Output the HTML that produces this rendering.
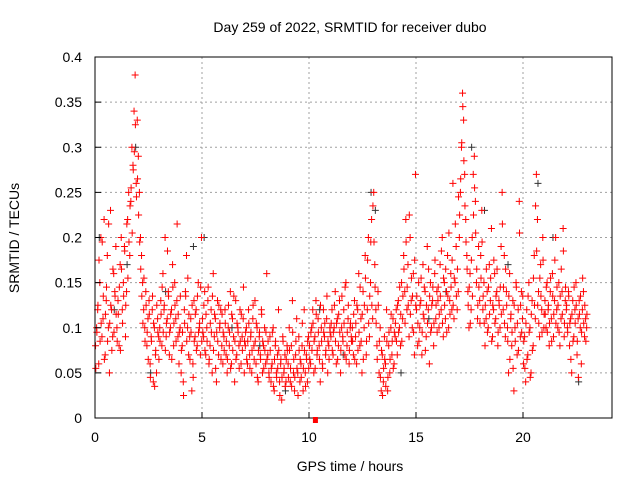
<!DOCTYPE html>
<html><head><meta charset="utf-8">
<style>
body{margin:0;background:#fff}
svg{display:block;font-family:"Liberation Sans",sans-serif}
</style></head>
<body>
<svg id="chart" width="640" height="480" viewBox="0 0 640 480">
<rect width="640" height="480" fill="#fff"/>
<text x="350" y="32" font-size="14" text-anchor="middle">Day 259 of 2022, SRMTID for receiver dubo</text>
<g id="grid"></g>
<g id="black-series"></g>
<g id="red-series"></g>
<g id="axes"></g>
<text x="350" y="471" font-size="14" text-anchor="middle">GPS time / hours</text>
<text transform="translate(19,238) rotate(-90)" font-size="14" text-anchor="middle">SRMTID / TECUs</text>
</svg>
<script>
const xTicks=[0,5,10,15,20];
const yTicks=[0,0.05,0.1,0.15,0.2,0.25,0.3,0.35,0.4];
const yTickLabels=["0","0.05","0.1","0.15","0.2","0.25","0.3","0.35","0.4"];
// red series: values per hour block (20 samples each)
const redHourly=[
[0.08,0.1,0.12,0.06,0.15,0.2,0.09,0.11,0.22,0.07,0.13,0.18,0.1,0.05,0.23,0.12,0.09,0.16,0.14,0.19],
[0.1,0.13,0.08,0.17,0.2,0.12,0.15,0.19,0.09,0.14,0.22,0.25,0.18,0.24,0.3,0.28,0.34,0.38,0.26,0.33],
[0.29,0.25,0.2,0.18,0.15,0.12,0.1,0.14,0.08,0.11,0.13,0.06,0.09,0.12,0.04,0.1,0.07,0.05,0.11,0.09],
[0.1,0.13,0.08,0.16,0.12,0.2,0.09,0.11,0.14,0.07,0.1,0.12,0.17,0.08,0.15,0.11,0.13,0.09,0.06,0.1],
[0.05,0.08,0.04,0.12,0.14,0.18,0.1,0.07,0.09,0.11,0.03,0.06,0.13,0.09,0.12,0.08,0.15,0.1,0.07,0.2],
[0.11,0.09,0.14,0.07,0.1,0.13,0.06,0.08,0.12,0.05,0.16,0.09,0.11,0.04,0.13,0.07,0.1,0.12,0.08,0.06],
[0.09,0.12,0.07,0.05,0.1,0.08,0.14,0.06,0.11,0.09,0.04,0.13,0.07,0.1,0.08,0.12,0.06,0.09,0.11,0.05],
[0.08,0.1,0.06,0.12,0.07,0.09,0.05,0.11,0.08,0.13,0.06,0.1,0.04,0.09,0.07,0.12,0.05,0.08,0.1,0.06],
[0.16,0.07,0.05,0.09,0.04,0.06,0.1,0.03,0.08,0.05,0.07,0.12,0.04,0.06,0.02,0.09,0.05,0.07,0.04,0.08],
[0.06,0.1,0.04,0.08,0.13,0.05,0.03,0.07,0.11,0.05,0.09,0.04,0.06,0.08,0.03,0.12,0.05,0.07,0.04,0.09],
[0.08,0.06,0.1,0.12,0.05,0.09,0.13,0.07,0.11,0.08,0.04,0.1,0.06,0.12,0.09,0.07,0.11,0.05,0.08,0.1],
[0.09,0.12,0.07,0.1,0.14,0.06,0.11,0.08,0.13,0.05,0.1,0.09,0.12,0.07,0.15,0.08,0.11,0.06,0.1,0.09],
[0.1,0.07,0.13,0.09,0.06,0.12,0.16,0.08,0.11,0.05,0.14,0.1,0.18,0.07,0.12,0.2,0.09,0.15,0.22,0.11],
[0.25,0.17,0.12,0.08,0.14,0.05,0.1,0.03,0.07,0.04,0.09,0.06,0.12,0.03,0.08,0.05,0.1,0.07,0.11,0.06],
[0.09,0.12,0.07,0.13,0.1,0.08,0.15,0.11,0.18,0.14,0.22,0.12,0.17,0.09,0.2,0.13,0.1,0.16,0.07,0.27],
[0.12,0.08,0.15,0.1,0.13,0.07,0.17,0.11,0.14,0.09,0.19,0.12,0.06,0.15,0.1,0.13,0.08,0.16,0.11,0.14],
[0.13,0.1,0.17,0.12,0.2,0.09,0.15,0.11,0.14,0.18,0.1,0.13,0.16,0.12,0.26,0.11,0.15,0.19,0.12,0.14],
[0.2,0.25,0.3,0.36,0.33,0.27,0.22,0.18,0.14,0.1,0.16,0.12,0.2,0.27,0.29,0.24,0.15,0.11,0.19,0.13],
[0.18,0.23,0.12,0.15,0.08,0.11,0.14,0.1,0.17,0.13,0.21,0.09,0.12,0.16,0.11,0.14,0.08,0.13,0.1,0.19],
[0.25,0.12,0.18,0.09,0.14,0.1,0.05,0.16,0.11,0.08,0.13,0.03,0.1,0.15,0.07,0.12,0.24,0.09,0.14,0.11],
[0.06,0.09,0.04,0.12,0.07,0.15,0.1,0.05,0.13,0.08,0.18,0.11,0.27,0.22,0.14,0.09,0.17,0.12,0.2,0.1],
[0.13,0.1,0.15,0.12,0.08,0.14,0.11,0.16,0.09,0.13,0.2,0.12,0.1,0.15,0.08,0.11,0.14,0.21,0.09,0.13],
[0.12,0.1,0.14,0.08,0.11,0.05,0.13,0.09,0.12,0.15,0.07,0.11,0.13,0.1,0.06,0.12,0.14,0.09,0.11,0.1]
];
// second red sweep (other satellites), offset in time
const redHourlyB=[
[0.055,0.095,0.125,0.175,0.085,0.105,0.195,0.135,0.065,0.115,0.145,0.085,0.215,0.105,0.125,0.075,0.165,0.095,0.135,0.115],
[0.085,0.115,0.145,0.075,0.165,0.105,0.135,0.185,0.125,0.215,0.155,0.195,0.235,0.255,0.205,0.275,0.295,0.325,0.245,0.265],
[0.225,0.195,0.165,0.135,0.105,0.155,0.085,0.125,0.095,0.065,0.115,0.045,0.085,0.135,0.105,0.035,0.075,0.125,0.095,0.065],
[0.085,0.115,0.145,0.095,0.125,0.075,0.105,0.185,0.135,0.095,0.115,0.065,0.145,0.105,0.125,0.085,0.215,0.115,0.095,0.135],
[0.075,0.095,0.025,0.105,0.135,0.085,0.155,0.115,0.065,0.095,0.125,0.045,0.085,0.115,0.075,0.135,0.095,0.105,0.145,0.085],
[0.095,0.125,0.075,0.115,0.085,0.145,0.065,0.105,0.095,0.135,0.075,0.115,0.055,0.095,0.085,0.125,0.105,0.065,0.115,0.095],
[0.075,0.105,0.085,0.065,0.125,0.095,0.055,0.115,0.075,0.135,0.085,0.065,0.105,0.095,0.055,0.085,0.115,0.075,0.145,0.085],
[0.095,0.065,0.085,0.105,0.055,0.095,0.075,0.125,0.065,0.085,0.105,0.045,0.075,0.095,0.065,0.115,0.085,0.055,0.075,0.095],
[0.065,0.085,0.045,0.075,0.055,0.095,0.035,0.065,0.085,0.045,0.055,0.075,0.025,0.065,0.045,0.085,0.055,0.035,0.065,0.075],
[0.045,0.075,0.055,0.035,0.095,0.065,0.045,0.085,0.055,0.025,0.075,0.065,0.045,0.105,0.055,0.075,0.035,0.065,0.085,0.055],
[0.065,0.095,0.075,0.105,0.085,0.055,0.115,0.075,0.095,0.065,0.125,0.085,0.055,0.095,0.105,0.075,0.135,0.085,0.065,0.095],
[0.105,0.075,0.095,0.125,0.085,0.105,0.065,0.115,0.095,0.075,0.135,0.085,0.105,0.145,0.065,0.095,0.125,0.075,0.105,0.085],
[0.085,0.115,0.065,0.105,0.125,0.075,0.095,0.145,0.085,0.115,0.065,0.125,0.155,0.085,0.175,0.105,0.135,0.195,0.125,0.235],
[0.195,0.145,0.105,0.065,0.125,0.085,0.045,0.075,0.025,0.055,0.065,0.035,0.085,0.045,0.095,0.065,0.115,0.085,0.055,0.095],
[0.105,0.085,0.125,0.095,0.145,0.115,0.085,0.135,0.165,0.105,0.195,0.145,0.125,0.225,0.115,0.155,0.135,0.095,0.175,0.125],
[0.135,0.105,0.085,0.125,0.155,0.095,0.115,0.145,0.075,0.125,0.105,0.165,0.135,0.095,0.125,0.145,0.105,0.175,0.125,0.095],
[0.145,0.115,0.135,0.185,0.105,0.155,0.125,0.165,0.095,0.135,0.205,0.115,0.145,0.175,0.125,0.155,0.215,0.135,0.165,0.245],
[0.225,0.265,0.305,0.345,0.285,0.235,0.195,0.165,0.125,0.145,0.105,0.175,0.135,0.225,0.255,0.205,0.165,0.125,0.145,0.105],
[0.155,0.195,0.135,0.105,0.125,0.165,0.095,0.145,0.115,0.155,0.085,0.125,0.175,0.105,0.135,0.165,0.095,0.125,0.145,0.115],
[0.215,0.145,0.105,0.165,0.125,0.085,0.135,0.065,0.115,0.095,0.055,0.125,0.085,0.145,0.105,0.075,0.205,0.125,0.095,0.135],
[0.085,0.055,0.105,0.065,0.135,0.095,0.045,0.115,0.075,0.155,0.125,0.235,0.185,0.125,0.105,0.155,0.135,0.095,0.175,0.115],
[0.115,0.145,0.095,0.125,0.105,0.155,0.085,0.135,0.115,0.175,0.105,0.145,0.125,0.095,0.135,0.165,0.115,0.185,0.105,0.145],
[0.125,0.095,0.135,0.105,0.065,0.115,0.085,0.145,0.105,0.125,0.085,0.045,0.115,0.135,0.095,0.155,0.105,0.125,0.085,0.115]
];
const blackTimes=[0.2,0.9,1.5,1.9,2.6,3.3,4.6,5.1,6.4,7.7,8.9,10.5,11.6,12.9,13.1,14.3,15.6,16.4,17.6,18.2,19.3,20.7,21.4,22.6];
const blackValues=[0.2,0.12,0.17,0.3,0.05,0.14,0.19,0.2,0.1,0.08,0.03,0.12,0.07,0.25,0.23,0.05,0.11,0.14,0.3,0.23,0.17,0.26,0.2,0.04];
const markerTime=[10.3];
const markerValue=[0];

const X0=95,XS=21.4,Y0=418,YS=902.5,XR=612,YT=57;
const sx=t=>X0+t*XS, sy=v=>Y0-v*YS;
const NS="http://www.w3.org/2000/svg";
function mk(tag,attrs,parent){const e=document.createElementNS(NS,tag);for(const k in attrs)e.setAttribute(k,attrs[k]);parent.appendChild(e);return e;}
const grid=document.getElementById('grid'),axes=document.getElementById('axes');
xTicks.forEach(t=>{
  const x=sx(t);
  if(t>0){const g=mk('line',{x1:x,y1:YT,x2:x,y2:Y0,stroke:'#a0a0a0','stroke-dasharray':'2,3'},grid);
  
  }
  const lb=mk('text',{x:x,y:Y0+24,'font-size':14,'text-anchor':'middle'},axes);lb.textContent=t;
  
  
  mk('line',{x1:x,y1:Y0,x2:x,y2:Y0-6,stroke:'#000'},axes);
});
yTicks.forEach((v,i)=>{
  const y=sy(v);
  if(v>0&&v<0.4){const g=mk('line',{x1:X0,y1:y,x2:XR,y2:y,stroke:'#a0a0a0','stroke-dasharray':'2,3'},grid);
  
  }
  const lb=mk('text',{x:X0-13,y:y+5,'font-size':14,'text-anchor':'end'},axes);lb.textContent=yTickLabels[i];
  
  
  mk('line',{x1:X0,y1:y,x2:X0+6,y2:y,stroke:'#000'},axes);
});
const fr=mk('rect',{x:X0,y:YT,width:XR-X0,height:Y0-YT,fill:'none',stroke:'#000'},axes);


function cross(t,v,col,parent,name){
  const x=sx(t),y=sy(v);
  const p=mk('path',{d:`M${x-3.5},${y}h7M${x},${y-3.5}v7`,stroke:col,'stroke-width':1,fill:'none'},parent);
  
  
}
const bs=document.getElementById('black-series');
blackTimes.forEach((t,i)=>cross(t,blackValues[i],'#333',bs,'black-point'));
const rs=document.getElementById('red-series');
redHourly.forEach((row,h)=>row.forEach((v,i)=>cross(h+(i+0.5)/row.length,v,'#f00',rs,'red-point')));
redHourlyB.forEach((row,h)=>row.forEach((v,i)=>cross(h+(i+0.75)/row.length,v,'#f00',rs,'red-point')));
markerTime.forEach((t,i)=>{const r=mk('rect',{x:sx(t)-2.5,y:sy(markerValue[i])-1,width:5,height:6,fill:'#f00'},axes);

});
</script>
</body></html>
